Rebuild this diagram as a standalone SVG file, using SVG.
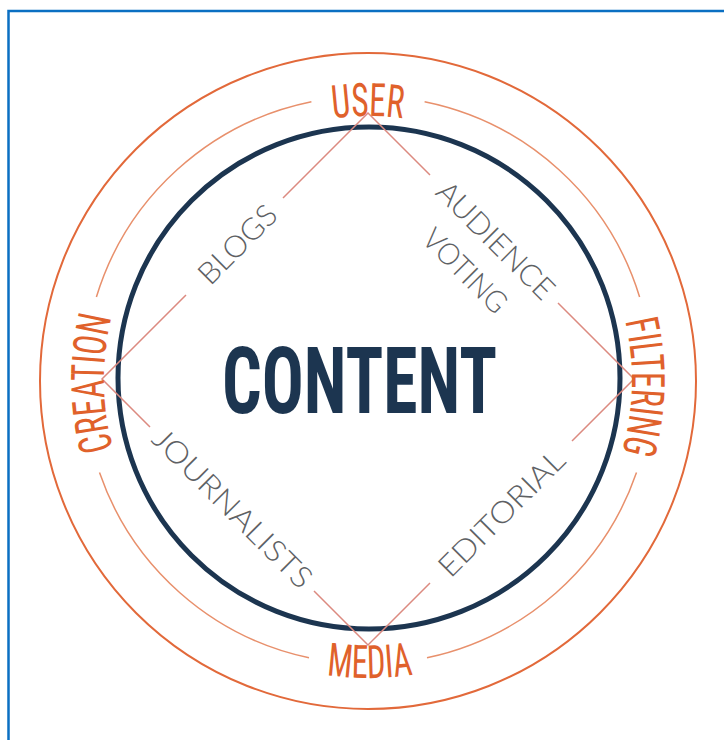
<svg xmlns="http://www.w3.org/2000/svg" width="724" height="740" viewBox="0 0 724 740">
  <style>
    .frame { fill: none; stroke: #0a6fc2; stroke-width: 2.5; }
    .outer { fill: none; stroke: #e2693a; stroke-width: 2; }
    .ring { fill: none; stroke: #e8906c; stroke-width: 1.5; }
    .core { fill: none; stroke: #1c3550; stroke-width: 5; }
    .edge { fill: none; stroke: #dc8a80; stroke-width: 1.5; stroke-linejoin: miter; }
    .ol { font-family: "Roboto Condensed", "Liberation Sans Narrow", "Liberation Sans", Arial, sans-serif; font-size: 46px; fill: #e0612b; }
    .gl { font-family: Lato, Roboto, "Liberation Sans", sans-serif; font-weight: 300; font-size: 30px; fill: #5e6164; text-anchor: middle; }
    .title { font-family: "Roboto Condensed", "Liberation Sans Narrow", "Liberation Sans", Arial, sans-serif; font-weight: bold; font-size: 92px; fill: #1c3550; }
  </style>
  <defs>
    <path id="pUser" d="M104,380 A264,264 0 0 1 632,380"/>
    <path id="pFilter" d="M368,116 A264,264 0 0 1 368,644"/>
    <path id="pCreation" d="M368,644 A264,264 0 0 1 368,116"/>
    <path id="pMedia" d="M70,380 A298,298 0 0 0 666,380"/>
  </defs>
  <rect width="724" height="740" fill="#ffffff"/>
  <path class="frame" d="M8.5,740 V11 H724"/>

  <g id="rings">
    <circle class="outer" cx="368" cy="381" r="328"/>
    <path class="ring" d="M424.6,101.7 A284,284 0 0 1 639.6,297"/>
    <path class="ring" d="M636.5,472.5 A284,284 0 0 1 427,657.8"/>
    <path class="ring" d="M309,657.8 A284,284 0 0 1 99.5,472.5"/>
    <path class="ring" d="M96.4,297 A284,284 0 0 1 311.4,101.7"/>
    <circle class="core" cx="369" cy="378" r="251"/>
  </g>

  <g id="connectors">
    <polyline class="edge" points="283,198 368,113 430,175"/>
    <polyline class="edge" points="558,303 634,379 572,441"/>
    <polyline class="edge" points="430,583 368,645 314,591"/>
    <polyline class="edge" points="150,427 102,379 186,295"/>
  </g>

  <g id="user">
    <text class="ol"><textPath href="#pUser" startOffset="50%" text-anchor="middle" textLength="70" lengthAdjust="spacingAndGlyphs">USER</textPath></text>
  </g>
  <g id="filtering">
    <text class="ol"><textPath href="#pFilter" startOffset="50.8%" text-anchor="middle" textLength="133" lengthAdjust="spacingAndGlyphs">FILTERING</textPath></text>
  </g>
  <g id="media">
    <text class="ol"><textPath href="#pMedia" startOffset="50.2%" text-anchor="middle" textLength="87" lengthAdjust="spacingAndGlyphs">MEDIA</textPath></text>
  </g>
  <g id="creation">
    <text class="ol"><textPath href="#pCreation" startOffset="49.6%" text-anchor="middle" textLength="133" lengthAdjust="spacingAndGlyphs">CREATION</textPath></text>
  </g>

  <g id="content">
    <text class="title" x="222" y="413" textLength="275" lengthAdjust="spacingAndGlyphs">CONTENT</text>
  </g>

  <g id="blogs" transform="translate(237,244) rotate(-45)">
    <text class="gl" x="0" y="11" textLength="98" lengthAdjust="spacingAndGlyphs">BLOGS</text>
  </g>
  <g id="audience-voting" transform="translate(496,240) rotate(45)">
    <text class="gl" x="0" y="11" textLength="153" lengthAdjust="spacingAndGlyphs">AUDIENCE</text>
    <text class="gl" x="0" y="54" textLength="106" lengthAdjust="spacingAndGlyphs">VOTING</text>
  </g>
  <g id="journalists" transform="translate(233,508) rotate(45)">
    <text class="gl" x="0" y="11" textLength="212" lengthAdjust="spacingAndGlyphs">JOURNALISTS</text>
  </g>
  <g id="editorial" transform="translate(501,513) rotate(-45)">
    <text class="gl" x="0" y="11" textLength="165" lengthAdjust="spacingAndGlyphs">EDITORIAL</text>
  </g>
</svg>
